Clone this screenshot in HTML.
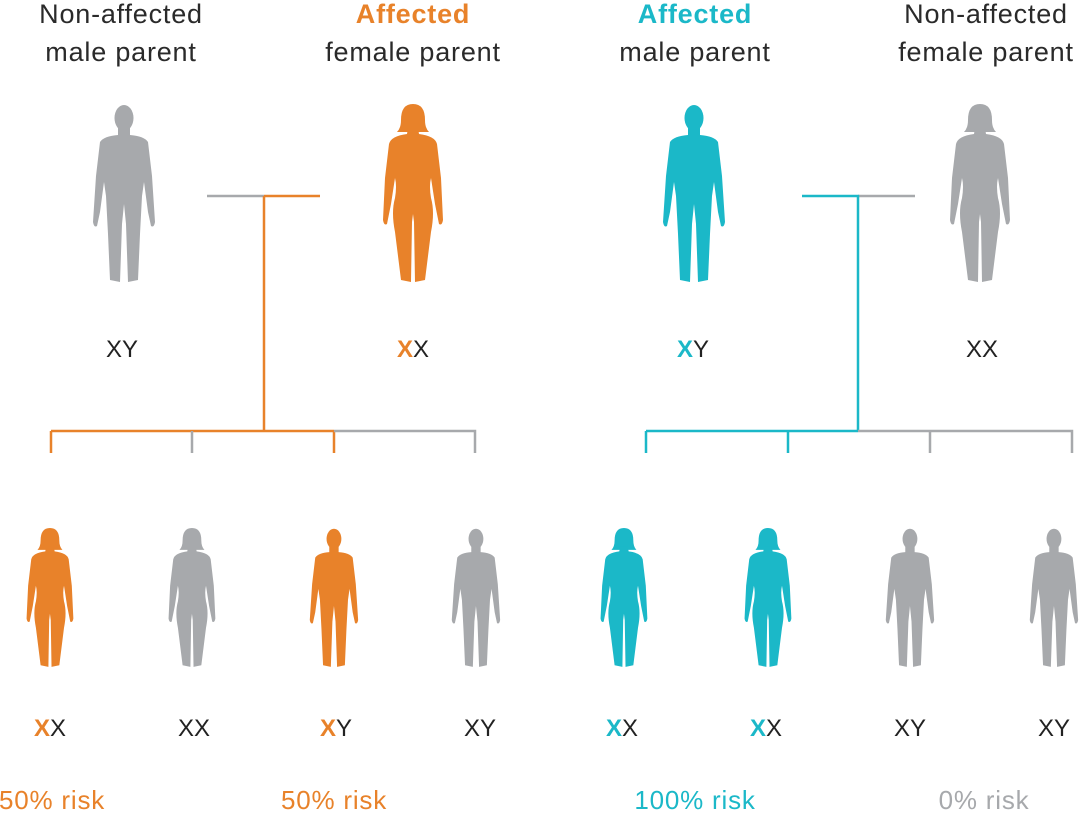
<!DOCTYPE html>
<html><head><meta charset="utf-8"><style>
body{margin:0;background:#fff;}
svg{display:block}
text{font-family:"Liberation Sans",sans-serif;}
</style></head><body>
<svg width="1080" height="816" viewBox="0 0 1080 816" xmlns="http://www.w3.org/2000/svg">
<defs>
<g id="m">
<ellipse cx="32" cy="14" rx="9.5" ry="13"/>
<path d="M26,24 L38,24 L38,31 Q52,32 56,38 L60,72 L63,118 Q62,124 59,122 L56,108 L52,78 L50,92 L48,130 L46,176 L36,178 L34,120 L32,100 L30,120 L28,178 L18,176 L16,130 L14,92 L12,78 L8,108 L5,122 Q2,124 1,118 L4,72 L8,38 Q12,32 26,31 Z"/>
</g>
<g id="f">
<path d="M20,16 Q20,0 32,0 Q44,0 44,16 Q44,24 48,28 L16,28 Q20,24 20,16 Z"/>
<path d="M27,24 L37,24 L38,30 Q54,32 56,40 L60,74 L62,116 Q61,122 58,120 L54,100 L50,74 Q48,82 50,94 Q54,108 50,128 L44,176 L34,178 L33,118 L32,110 L31,118 L30,178 L20,176 L14,128 Q10,108 14,94 Q16,82 14,74 L10,100 L6,120 Q3,122 2,116 L4,74 L8,40 Q10,32 26,30 Z"/>
</g>
</defs>
<g font-size="27" text-anchor="middle" fill="#2a2a2a" letter-spacing="0.8">
<text x="121" y="23">Non-affected</text><text x="121" y="61">male parent</text>
<text x="413" y="23" fill="#E8822A" font-weight="bold">Affected</text><text x="413" y="61">female parent</text>
<text x="695" y="23" fill="#1BB8C8" font-weight="bold">Affected</text><text x="695" y="61">male parent</text>
<text x="986" y="23">Non-affected</text><text x="986" y="61">female parent</text>
</g>
<use href="#m" fill="#A7A9AC" transform="translate(92,104)"/>
<use href="#f" fill="#E8822A" transform="translate(381,104)"/>
<use href="#m" fill="#1BB8C8" transform="translate(662,104)"/>
<use href="#f" fill="#A7A9AC" transform="translate(948,104)"/>
<g font-size="24" text-anchor="middle" fill="#222">
<text x="122" y="357">XY</text>
<text x="413" y="357"><tspan fill="#E8822A" font-weight="bold">X</tspan>X</text>
<text x="693" y="357"><tspan fill="#1BB8C8" font-weight="bold">X</tspan>Y</text>
<text x="982" y="357">XX</text>
</g>
<g stroke-width="2.5" fill="none">
<path d="M207,196 H264" stroke="#A7A9AC"/>
<path d="M264,196 H320 M264,196 V431 M51,431 H334 M51,431 V453 M334,431 V453" stroke="#E8822A"/>
<path d="M334,431 H475 V453 M192,431 V453" stroke="#A7A9AC"/>
<path d="M858,196 H915" stroke="#A7A9AC"/>
<path d="M802,196 H858 V431 M646,431 H858 M646,431 V453 M788,431 V453" stroke="#1BB8C8"/>
<path d="M858,431 H1072 V453 M930,431 V453" stroke="#A7A9AC"/>
</g>
<g transform="translate(0,528)">
<use href="#f" fill="#E8822A" transform="translate(25,0) scale(0.78)"/>
<use href="#f" fill="#A7A9AC" transform="translate(167,0) scale(0.78)"/>
<use href="#m" fill="#E8822A" transform="translate(309,0) scale(0.78)"/>
<use href="#m" fill="#A7A9AC" transform="translate(451,0) scale(0.78)"/>
<use href="#f" fill="#1BB8C8" transform="translate(599,0) scale(0.78)"/>
<use href="#f" fill="#1BB8C8" transform="translate(743,0) scale(0.78)"/>
<use href="#m" fill="#A7A9AC" transform="translate(885,0) scale(0.78)"/>
<use href="#m" fill="#A7A9AC" transform="translate(1029,0) scale(0.78)"/>
</g>
<g font-size="24" text-anchor="middle" fill="#222">
<text x="50" y="736"><tspan fill="#E8822A" font-weight="bold">X</tspan>X</text>
<text x="194" y="736">XX</text>
<text x="336" y="736"><tspan fill="#E8822A" font-weight="bold">X</tspan>Y</text>
<text x="480" y="736">XY</text>
<text x="622" y="736"><tspan fill="#1BB8C8" font-weight="bold">X</tspan>X</text>
<text x="766" y="736"><tspan fill="#1BB8C8" font-weight="bold">X</tspan>X</text>
<text x="910" y="736">XY</text>
<text x="1054" y="736">XY</text>
</g>
<g font-size="26" text-anchor="middle" letter-spacing="0.8">
<text x="52" y="809" fill="#E8822A">50% risk</text>
<text x="334" y="809" fill="#E8822A">50% risk</text>
<text x="695" y="809" fill="#1BB8C8">100% risk</text>
<text x="984" y="809" fill="#A7A9AC">0% risk</text>
</g>
</svg>
</body></html>
